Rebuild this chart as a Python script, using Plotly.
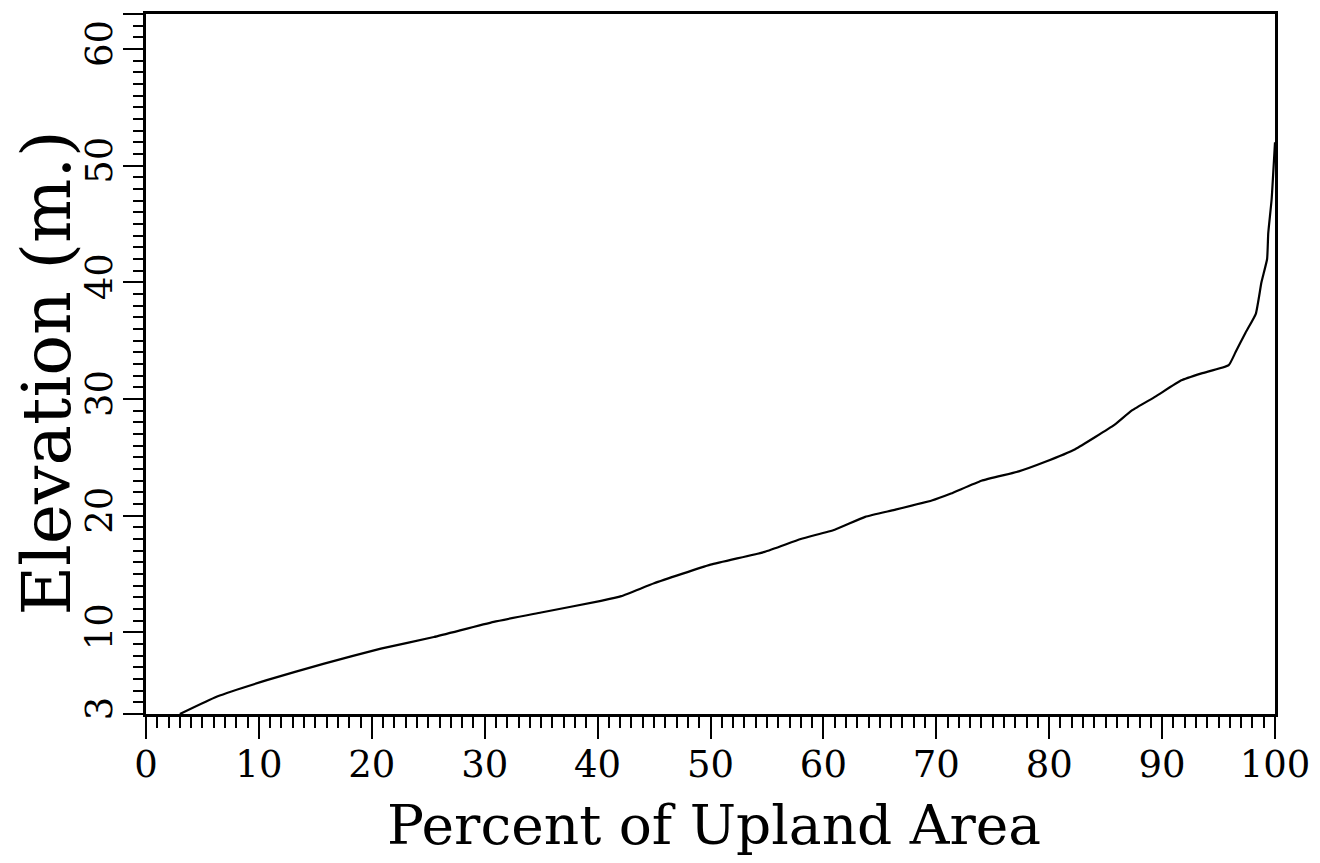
import plotly.graph_objects as go

# Hypsometric curve: percent of upland area vs elevation (m)
percent_area = [3.0, 6.3, 10.7, 15.7, 20.8, 25.5, 30.8, 35.0, 40.3, 42.1, 45.0, 50.0,
                54.8, 58.0, 61.0, 63.7, 66.3, 69.6, 71.3, 74.0, 77.3, 79.6, 82.3,
                85.8, 87.3, 89.4, 91.7, 93.5, 95.9, 96.5, 97.4, 98.3, 98.8, 99.3,
                99.4, 99.7, 100.0]
elevation = [3.0, 4.5, 5.9, 7.3, 8.6, 9.6, 10.9, 11.7, 12.7, 13.1, 14.2, 15.8,
             16.9, 18.0, 18.8, 19.9, 20.5, 21.3, 21.9, 23.0, 23.8, 24.6, 25.7,
             27.8, 29.0, 30.2, 31.6, 32.2, 32.9, 34.0, 35.7, 37.3, 40.0, 42.0,
             44.2, 47.1, 52.0]

x_tickvals = [0, 10, 20, 30, 40, 50, 60, 70, 80, 90, 100]
x_ticktext = ["0", "10", "20", "30", "40", "50", "60", "70", "80", "90", "100"]
y_tickvals = [3, 10, 20, 30, 40, 50, 60, 63]
y_ticktext = ["3", "10", "20", "30", "40", "50", "60", ""]
x_title = "Percent of Upland Area"
y_title = "Elevation (m.)"

FONT = "DejaVu Serif"

fig = go.Figure()
fig.add_trace(go.Scatter(x=percent_area, y=elevation, mode="lines",
                         line=dict(color="black", width=2.2, shape="spline", smoothing=0.4),
                         showlegend=False, cliponaxis=False))

fig.update_layout(
    width=1320, height=863,
    paper_bgcolor="white", plot_bgcolor="white",
    margin=dict(l=138, r=53, t=3, b=157),
    font=dict(family=FONT, color="black"),
)

fig.update_xaxes(
    range=[0, 100], showgrid=False, zeroline=False,
    showline=True, linecolor="black", linewidth=3, mirror=True,
    ticks="outside", ticklen=22, tickwidth=2, tickcolor="black",
    tickmode="array", tickvals=x_tickvals, ticktext=x_ticktext,
    tickfont=dict(family=FONT, size=37), ticklabelstandoff=-6,
    minor=dict(tickmode="linear", tick0=0, dtick=1, ticks="outside",
               ticklen=11, tickwidth=2, tickcolor="black", showgrid=False),
)

fig.update_yaxes(
    range=[3, 63], showgrid=False, zeroline=False,
    showline=True, linecolor="black", linewidth=3, mirror=True,
    ticks="outside", ticklen=20, tickwidth=2, tickcolor="black",
    tickmode="array", tickvals=y_tickvals, ticktext=y_ticktext,
    tickangle=-90, ticklabelstandoff=-4,
    tickfont=dict(family=FONT, size=37),
    minor=dict(tickmode="linear", tick0=0, dtick=1, ticks="outside",
               ticklen=10, tickwidth=2, tickcolor="black", showgrid=False),
)

fig.add_annotation(text=x_title, xref="paper", yref="paper", x=0.5035, y=-0.158,
                   xanchor="center", yanchor="middle", showarrow=False,
                   font=dict(family=FONT, size=55, color="black"))
fig.add_annotation(text=y_title, xref="paper", yref="paper", x=-0.0885, y=0.4865,
                   xanchor="center", yanchor="middle", showarrow=False, textangle=-90,
                   font=dict(family=FONT, size=68, color="black"))

fig.write_html("out.html")
